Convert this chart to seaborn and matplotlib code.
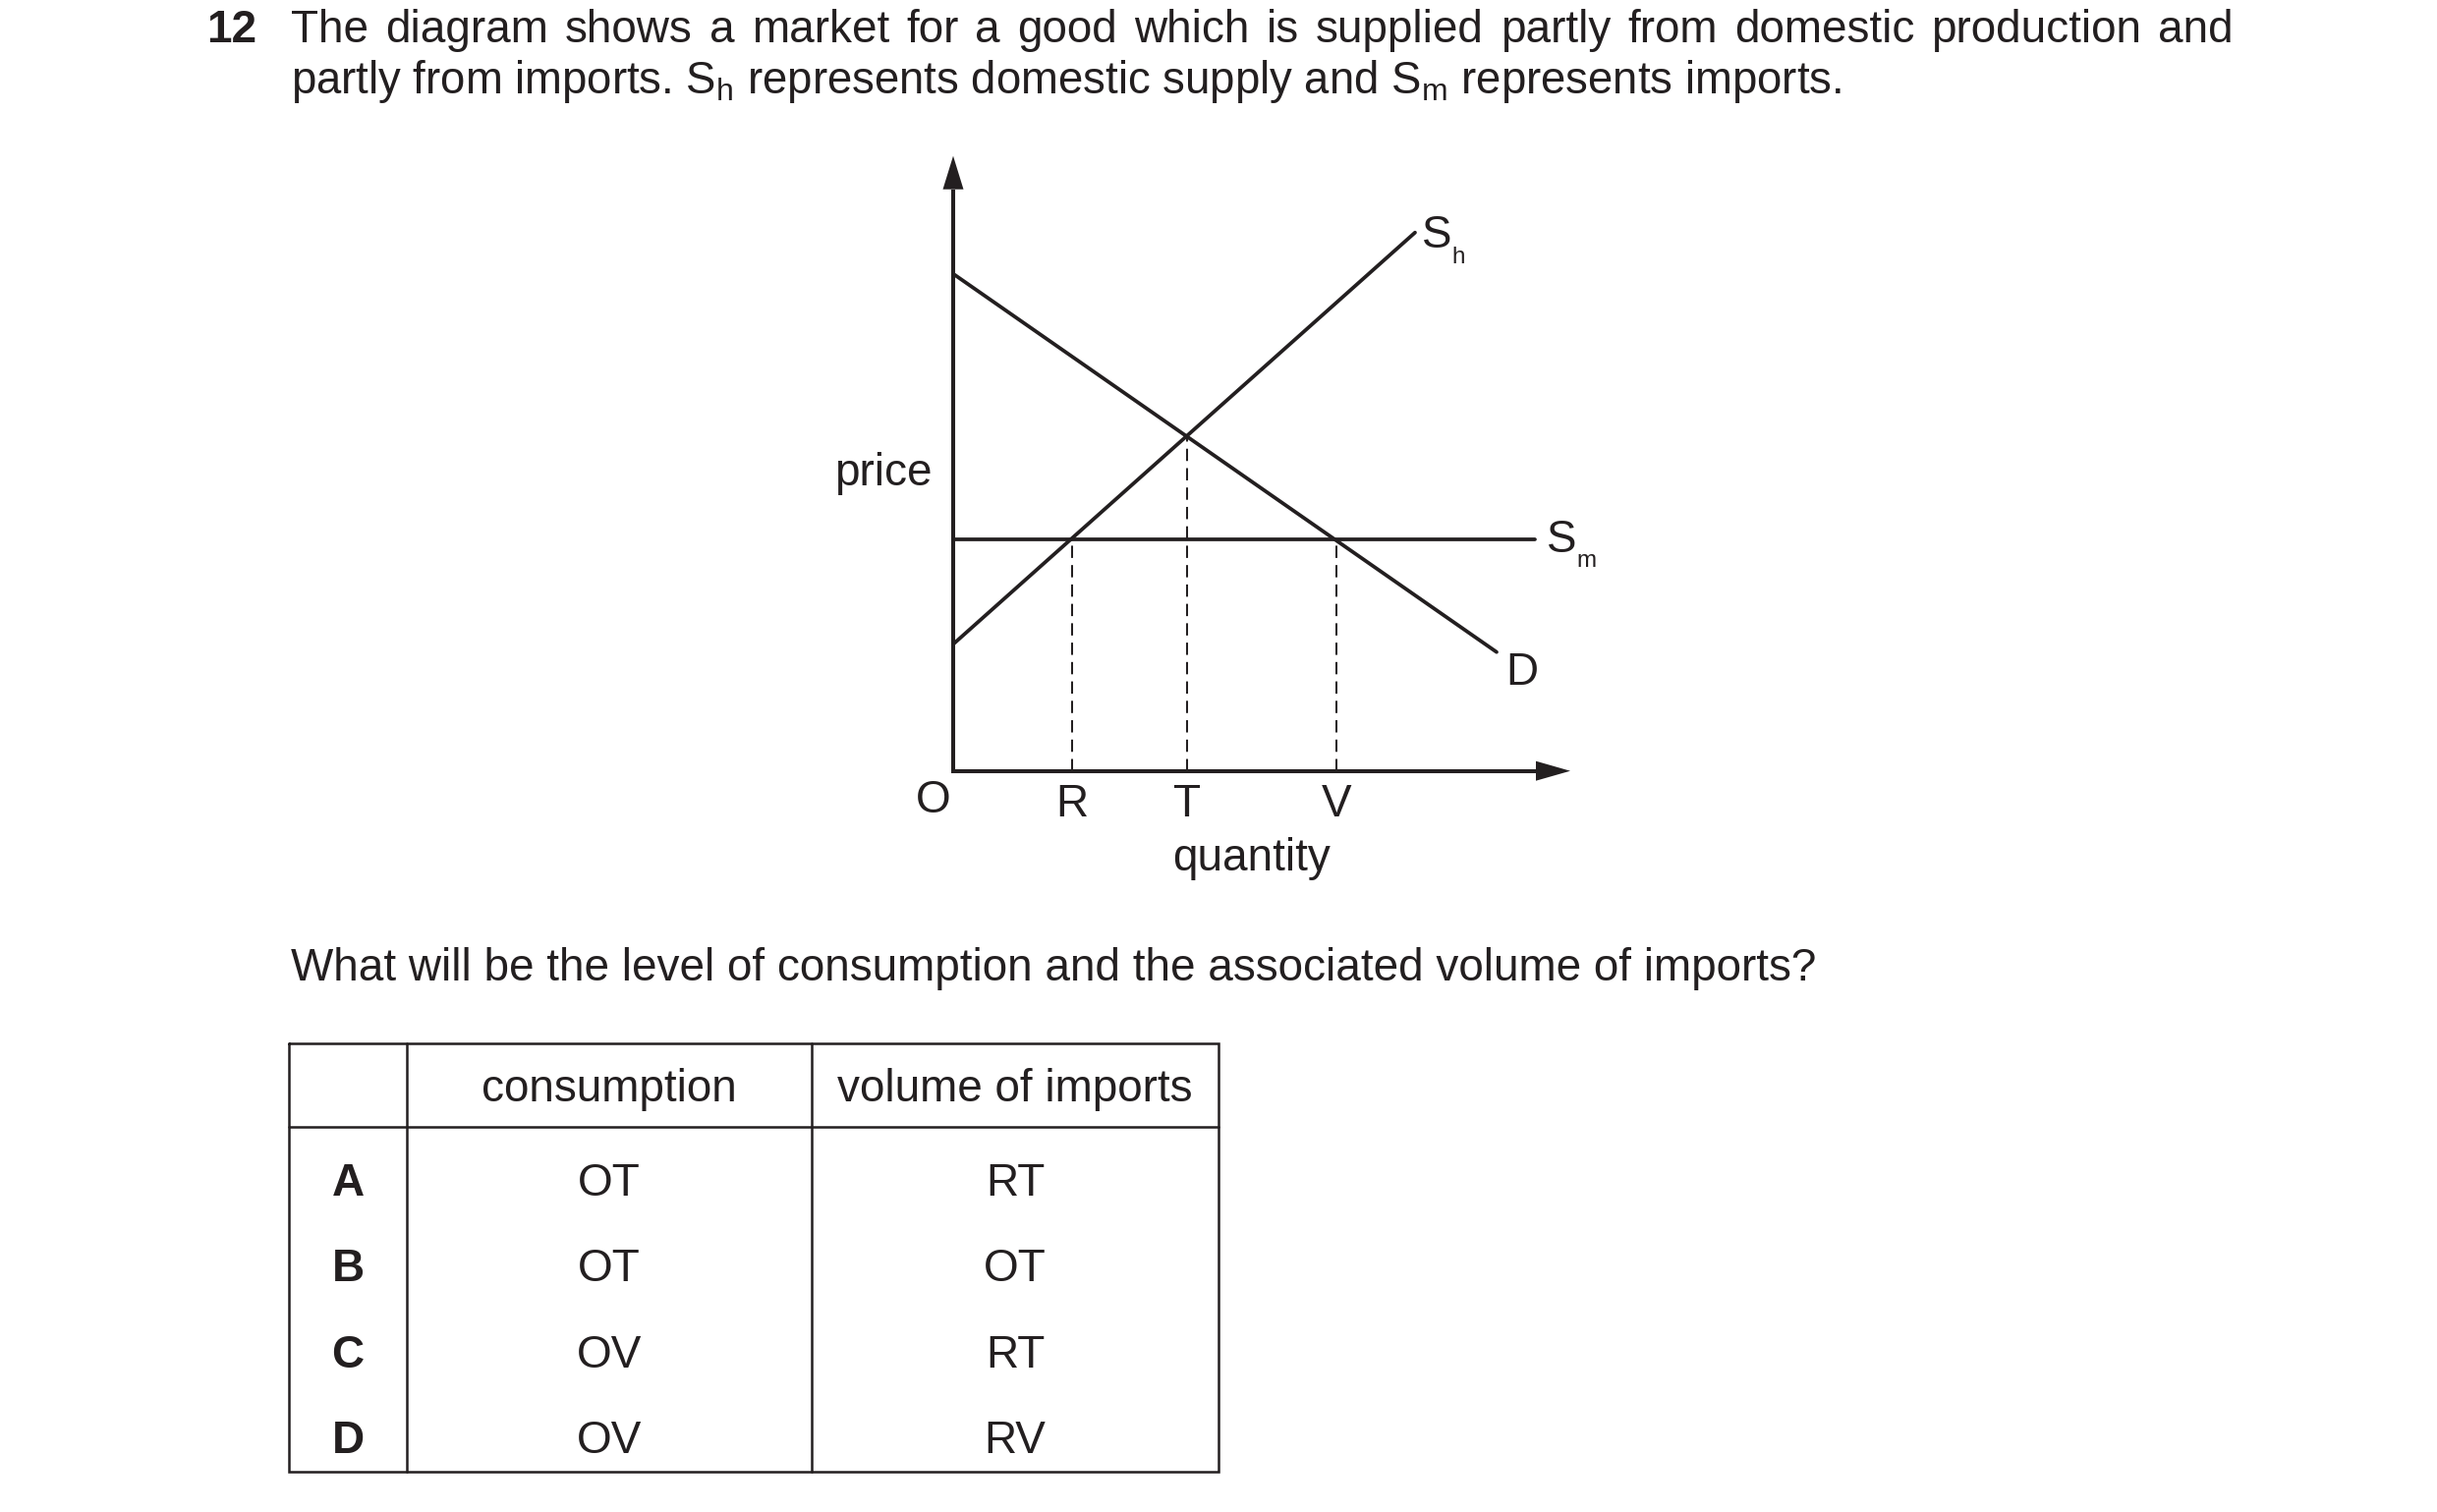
import numpy as np
import pandas as pd
import matplotlib
matplotlib.use("Agg")
import matplotlib.pyplot as plt
import seaborn as sns

# ---------------- data (diagram units) ----------------
demand_q = [0.0, 55.3]
demand_p = [50.6, 12.1]
sh_q = [0.0, 47.0]
sh_p = [12.9, 54.8]
sm_q = [0.0, 59.2]
sm_p = [23.6, 23.6]
point_names = ["R", "T", "V"]
point_q = [12.1, 23.8, 39.0]
point_p = [23.6, 34.1, 23.6]
x_axis_max = 62.8
y_axis_max = 62.6

table_header = ["consumption", "volume of imports"]
options = ["A", "B", "C", "D"]
consumption = ["OT", "OT", "OV", "OV"]
imports_vol = ["RT", "OT", "RT", "RV"]

line1_words = ("The diagram shows a market for a good which is supplied "
               "partly from domestic production and").split()
line2 = (r"partly from imports. $\mathregular{S_h}$ represents domestic supply "
         r"and $\mathregular{S_m}$ represents imports.")
question = "What will be the level of consumption and the associated volume of imports?"

# ---------------- style ----------------
sns.set_style("white")
plt.rcParams['font.family'] = ['Liberation Sans', 'DejaVu Sans']
INK = "#231f20"
FS = 33

W, H = 2480, 1539
fig = plt.figure(figsize=(W / 100, H / 100), dpi=100)

page = fig.add_axes([0, 0, 1, 1])
page.set_xlim(0, W)
page.set_ylim(H, 0)
page.axis('off')

# diagram axes: origin at pixel (970, 784.7), 10 px per unit
ox, oy = 970, 784.7
ax = fig.add_axes([ox / W, 1 - oy / H, x_axis_max * 10 / W, y_axis_max * 10 / H])
ax.set_xlim(0, x_axis_max)
ax.set_ylim(0, y_axis_max)
ax.axis('off')

curves = pd.DataFrame({
    "q": demand_q + sh_q + sm_q,
    "p": demand_p + sh_p + sm_p,
    "curve": ["D"] * 2 + ["Sh"] * 2 + ["Sm"] * 2,
})
sns.lineplot(data=curves, x="q", y="p", units="curve", estimator=None, sort=False,
             color=INK, linewidth=2.7, ax=ax, legend=False, clip_on=False)

ax.vlines(point_q, 0, point_p, colors=INK, linewidth=1.45,
          linestyles=(0, (6.2, 3.6)), clip_on=False)

# axes with arrow heads
y_head_base = y_axis_max - 3.4
x_head_base = x_axis_max - 3.5
ax.plot([0, 0, x_head_base], [y_head_base, 0, 0], color=INK, lw=2.9,
        solid_joinstyle='miter', solid_capstyle='butt', clip_on=False)
ax.fill([-1.05, 1.05, 0], [y_head_base, y_head_base, y_axis_max], color=INK,
        clip_on=False, lw=0)
ax.fill([x_head_base, x_head_base, x_axis_max], [-1.0, 1.0, 0], color=INK,
        clip_on=False, lw=0)

# diagram labels
def t(x, y, s, size=FS, ha='center', va='baseline', weight='normal'):
    return page.text(x, y, s, fontsize=size, ha=ha, va=va, color=INK, fontweight=weight)

t(950, 827, "O")
for name, q in zip(point_names, point_q):
    t(ox + q * 10, 831, name)
t(1274, 886, "quantity")
t(949, 494, "price", ha='right')
t(1447, 252, "S", ha='left')
t(1477, 268, "h", size=17.5, ha='left')
t(1574, 562, "S", ha='left')
t(1604, 577, "m", size=17.5, ha='left')
t(1532, 697, "D", ha='left')

# header
t(210, 43, "12", ha='left', weight='bold')
renderer = fig.canvas.get_renderer()
x_left, x_right = 296, 2273
widths = []
objs = []
for w in line1_words:
    o = page.text(0, 43, w, fontsize=FS, ha='left', va='baseline', color=INK)
    objs.append(o)
    bb = o.get_window_extent(renderer=renderer)
    widths.append(bb.width)
gap = (x_right - x_left - sum(widths)) / (len(line1_words) - 1)
xc = x_left
for o, wd in zip(objs, widths):
    o.set_x(xc)
    xc += wd + gap
t(296, 95, line2, size=32.8, ha='left')
t(296, 998, question, ha='left')

# table
tl, tr, tt, tb = 294, 1240, 1061.5, 1498
c1, c2 = 413.5, 826
hb = 1146.7
lw_t = 1.8
page.plot([tl, tr, tr, tl, tl], [tt, tt, tb, tb, tt], color=INK, lw=lw_t,
          solid_joinstyle='miter')
page.plot([c1, c1], [tt, tb], color=INK, lw=lw_t)
page.plot([c2, c2], [tt, tb], color=INK, lw=lw_t)
page.plot([tl, tr], [hb, hb], color=INK, lw=lw_t)

col_x = [354, 620, 1033]
t(col_x[1], 1120.7, table_header[0])
t(col_x[2], 1120.7, table_header[1])
row_y = [1216.7, 1304, 1391.7, 1479]
for letter, cons, imp, y in zip(options, consumption, imports_vol, row_y):
    t(col_x[0], y, letter, weight='bold')
    t(col_x[1], y, cons)
    t(col_x[2], y, imp)

fig.savefig("out.png", dpi=100, facecolor="white")
